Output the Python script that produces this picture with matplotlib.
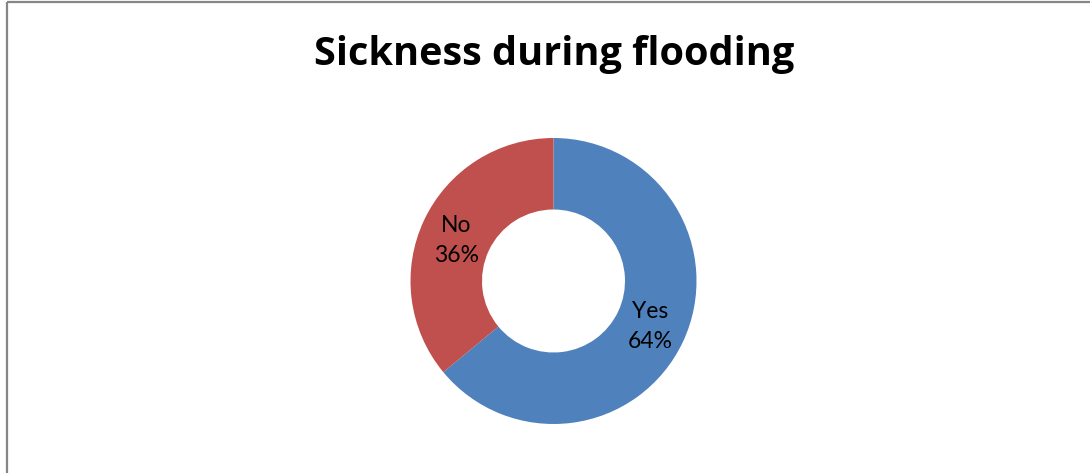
import matplotlib
matplotlib.use("Agg")
import matplotlib.pyplot as plt
from matplotlib.lines import Line2D

# Survey responses
categories = ["Yes", "No"]
shares = [64, 36]
colors = ["#4F81BD", "#C0504D"]
title = "Sickness during flooding"

W, H, DPI = 1090, 473, 100
fig = plt.figure(figsize=(W / DPI, H / DPI), dpi=DPI)
fig.patch.set_facecolor("white")

# chart frame (top and left edges visible)
fig.add_artist(Line2D([6.5 / W, 6.5 / W], [0, 1 - 2.5 / H], transform=fig.transFigure,
                      color="#868686", lw=1.6, solid_capstyle="butt"))
fig.add_artist(Line2D([6.5 / W, 1], [1 - 2.5 / H, 1 - 2.5 / H], transform=fig.transFigure,
                      color="#868686", lw=1.6, solid_capstyle="butt"))

fig.text(554 / W, 1 - 55 / H, title, ha="center", va="center",
         fontsize=28.5, fontweight="bold", family=["Open Sans", "DejaVu Sans"])

# doughnut: centre (553, 281) px, outer radius 143 px
R = 143.0
half = 150.0
cx, cy = 553.5, 281.0
ax = fig.add_axes([(cx - half) / W, (H - cy - half) / H, 2 * half / W, 2 * half / H])
ax.axis("off")

wedges, texts, autotexts = ax.pie(
    shares, colors=colors, startangle=90, counterclock=False,
    radius=1.0, wedgeprops=dict(width=0.5, edgecolor="none"),
    autopct="%d", pctdistance=0.75,
    textprops=dict(fontsize=16.5, family=["Lato", "DejaVu Sans"], color="black"),
)
# small vertical nudges of the labels inside the ring (in px)
nudge_px = {"Yes": 0.0, "No": -5.0}
for t, name, val in zip(autotexts, categories, shares):
    t.set_text(f"{name}\n{val}%")
    t.set_linespacing(1.55)
    t.set_ha("center")
    t.set_va("center")
    x, y = t.get_position()
    t.set_position((x, y + nudge_px[name] / R))

lim = half / R
ax.set_xlim(-lim, lim)
ax.set_ylim(-lim, lim)
ax.set_aspect("equal")

fig.savefig("out.png", dpi=DPI, facecolor="white")
